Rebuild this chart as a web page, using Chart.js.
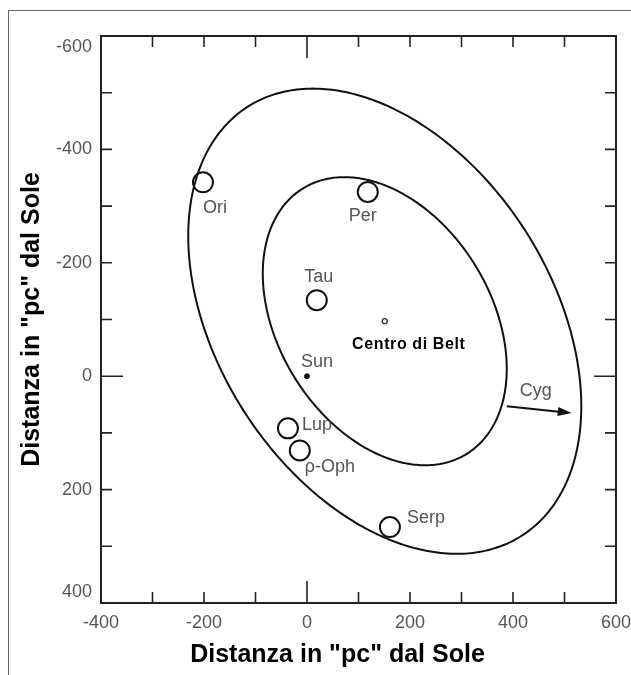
<!DOCTYPE html>
<html>
<head>
<meta charset="utf-8">
<script src="https://cdn.jsdelivr.net/npm/chart.js@4.4.1/dist/chart.umd.min.js"></script>
<style>
  html, body { margin: 0; padding: 0; background: #fff; }
  #wrap { position: relative; width: 631px; height: 675px; overflow: hidden; }
  #frame { position: absolute; left: 8px; top: 10px; width: 640px; height: 700px; border: 1px solid #666; }
  #myChart { position: absolute; left: 0; top: 0; }
</style>
</head>
<body>
<div id="wrap">
  <div id="frame"></div>
  <canvas id="myChart" width="631" height="675"></canvas>
</div>
<script>
// axis ranges (pc from the Sun)
const xRange = [-400, 600];
const yRange = [-600, 400];
const labelStep = 200;
const minorStep = 100;

// molecular clouds (open circles)
const cloudNames = ['Ori', 'Per', 'Tau', 'Lup', 'ρ-Oph', 'Serp'];
const cloudX = [-202, 118, 19, -37, -14, 161];
const cloudY = [-342, -325, -134, 92, 131, 266];

// Sun and centre of Gould's Belt
const sunX = [0];
const sunY = [0];
const beltX = [151];
const beltY = [-97];

// the two rings of the Belt: semi-axes and tilt (deg), centred on the belt centre
const ringA = [284, 464];
const ringB = [200, 314];
const ringTilt = [51, 50.6];

// direction of motion towards Cygnus
const cygFromX = [388], cygFromY = [53];
const cygToX = [514], cygToY = [65];

const axisTitle = 'Distanza in "pc" dal Sole';

document.addEventListener('DOMContentLoaded', () => {
  const ctx = document.getElementById('myChart').getContext('2d');
  const grey = '#555';
  const family = '"Liberation Sans", Arial, sans-serif';
  const labelFont = '18px ' + family;

  // where each name sits relative to its circle (pixels)
  const nameOffsets = {
    'Ori':   { dx: 12, dy: 26, align: 'center' },
    'Per':   { dx: -5, dy: 24, align: 'center' },
    'Tau':   { dx: 2, dy: -23, align: 'center' },
    'Lup':   { dx: 14, dy: -3, align: 'left' },
    'ρ-Oph': { dx: 5, dy: 17, align: 'left' },
    'Serp':  { dx: 17, dy: -9, align: 'left' }
  };

  const rings = {
    id: 'rings',
    beforeDatasetsDraw(chart) {
      const { ctx, scales: { x, y } } = chart;
      ctx.save();
      ctx.strokeStyle = '#111';
      ctx.lineWidth = 2;
      ringA.forEach((a, i) => {
        const b = ringB[i];
        const th = ringTilt[i] * Math.PI / 180;
        ctx.beginPath();
        for (let k = 0; k <= 360; k++) {
          const t = k * Math.PI / 180;
          const vx = beltX[0] + a * Math.cos(t) * Math.cos(th) - b * Math.sin(t) * Math.sin(th);
          const vy = beltY[0] + a * Math.cos(t) * Math.sin(th) + b * Math.sin(t) * Math.cos(th);
          const px = x.getPixelForValue(vx), py = y.getPixelForValue(vy);
          if (k === 0) ctx.moveTo(px, py); else ctx.lineTo(px, py);
        }
        ctx.closePath();
        ctx.stroke();
      });

      // arrow to Cyg
      const x0 = x.getPixelForValue(cygFromX[0]), y0 = y.getPixelForValue(cygFromY[0]);
      const x1 = x.getPixelForValue(cygToX[0]), y1 = y.getPixelForValue(cygToY[0]);
      const ang = Math.atan2(y1 - y0, x1 - x0);
      ctx.beginPath(); ctx.moveTo(x0, y0); ctx.lineTo(x1 - 8 * Math.cos(ang), y1 - 8 * Math.sin(ang)); ctx.stroke();
      ctx.fillStyle = '#111';
      ctx.beginPath();
      ctx.moveTo(x1, y1);
      ctx.lineTo(x1 - 14 * Math.cos(ang) + 4.5 * Math.sin(ang), y1 - 14 * Math.sin(ang) - 4.5 * Math.cos(ang));
      ctx.lineTo(x1 - 14 * Math.cos(ang) - 4.5 * Math.sin(ang), y1 - 14 * Math.sin(ang) + 4.5 * Math.cos(ang));
      ctx.closePath(); ctx.fill();
      ctx.restore();
    }
  };

  const frameAndLabels = {
    id: 'frameAndLabels',
    afterDatasetsDraw(chart) {
      const { ctx, chartArea: a, scales: { x, y } } = chart;
      ctx.save();
      ctx.strokeStyle = '#222';
      ctx.lineWidth = 2;
      ctx.strokeRect(a.left, a.top, a.right - a.left, a.bottom - a.top);

      // inward ticks on all four sides, the zero tick longer
      ctx.lineWidth = 1.6;
      for (let v = xRange[0] + minorStep; v < xRange[1]; v += minorStep) {
        const px = x.getPixelForValue(v), len = v === 0 ? 22 : 11;
        ctx.beginPath();
        ctx.moveTo(px, a.bottom); ctx.lineTo(px, a.bottom - len);
        ctx.moveTo(px, a.top); ctx.lineTo(px, a.top + len);
        ctx.stroke();
      }
      for (let v = yRange[0] + minorStep; v < yRange[1]; v += minorStep) {
        const py = y.getPixelForValue(v), len = v === 0 ? 22 : 11;
        ctx.beginPath();
        ctx.moveTo(a.left, py); ctx.lineTo(a.left + len, py);
        ctx.moveTo(a.right, py); ctx.lineTo(a.right - len, py);
        ctx.stroke();
      }

      // names
      ctx.fillStyle = grey;
      ctx.font = labelFont;
      ctx.textBaseline = 'middle';
      cloudNames.forEach((n, i) => {
        const o = nameOffsets[n];
        ctx.textAlign = o.align;
        ctx.fillText(n, x.getPixelForValue(cloudX[i]) + o.dx, y.getPixelForValue(cloudY[i]) + o.dy);
      });
      ctx.textAlign = 'left';
      ctx.fillText('Sun', x.getPixelForValue(sunX[0]) - 6, y.getPixelForValue(sunY[0]) - 14);
      ctx.fillText('Cyg', x.getPixelForValue(cygFromX[0]) + 13, y.getPixelForValue(cygFromY[0]) - 15);

      ctx.fillStyle = '#000';
      ctx.font = 'bold 16px ' + family;
      ctx.letterSpacing = '0.6px';
      ctx.textAlign = 'center';
      ctx.fillText('Centro di Belt', x.getPixelForValue(beltX[0]) + 24, y.getPixelForValue(beltY[0]) + 23);
      ctx.letterSpacing = '0px';

      // x axis title (sits a little left of the plot centre in the original)
      ctx.font = 'bold 25px ' + family;
      ctx.fillText(axisTitle, (a.left + a.right) / 2 - 21, a.bottom + 52);
      ctx.restore();
    }
  };

  const tickFont = { family: family, size: 18 };

  new Chart(ctx, {
    type: 'scatter',
    data: {
      datasets: [
        {
          label: 'Nubi',
          data: cloudX.map((v, i) => ({ x: v, y: cloudY[i] })),
          pointRadius: 10,
          pointBorderWidth: 2,
          borderColor: '#111',
          backgroundColor: 'rgba(0,0,0,0)'
        },
        {
          label: 'Sun',
          data: sunX.map((v, i) => ({ x: v, y: sunY[i] })),
          pointRadius: 2.5,
          pointBorderWidth: 1,
          borderColor: '#111',
          backgroundColor: '#111'
        },
        {
          label: 'Centro di Belt',
          data: beltX.map((v, i) => ({ x: v, y: beltY[i] })),
          pointRadius: 2.5,
          pointBorderWidth: 1.3,
          borderColor: '#333',
          backgroundColor: '#fff'
        }
      ]
    },
    options: {
      responsive: false,
      animation: false,
      layout: { padding: { left: 0, right: 15, top: 36, bottom: 0 } },
      scales: {
        x: {
          type: 'linear',
          min: xRange[0],
          max: xRange[1],
          afterFit: s => { s.height = 72; s.paddingLeft = 0; s.paddingRight = 0; },
          grid: { display: false, drawTicks: false },
          border: { display: false },
          ticks: { stepSize: labelStep, padding: 9, color: grey, font: tickFont }
        },
        y: {
          type: 'linear',
          reverse: true,
          min: yRange[0],
          max: yRange[1],
          afterFit: s => { s.width = 101; s.paddingTop = 0; s.paddingBottom = 0; },
          grid: { display: false, drawTicks: false },
          border: { display: false },
          ticks: {
            stepSize: labelStep,
            padding: 9,
            color: grey,
            font: tickFont,
            // the end labels are pulled inside the frame, as in the original
            callback: v => v === yRange[0] ? ['', String(v)] : v === yRange[1] ? [String(v), ''] : String(v)
          },
          title: {
            display: true,
            text: axisTitle,
            color: '#000',
            padding: { top: 17, bottom: 0 },
            font: { family: family, size: 25, weight: 'bold' }
          }
        }
      },
      plugins: {
        legend: { display: false },
        tooltip: { enabled: false }
      }
    },
    plugins: [rings, frameAndLabels]
  });
});
</script>
</body>
</html>
